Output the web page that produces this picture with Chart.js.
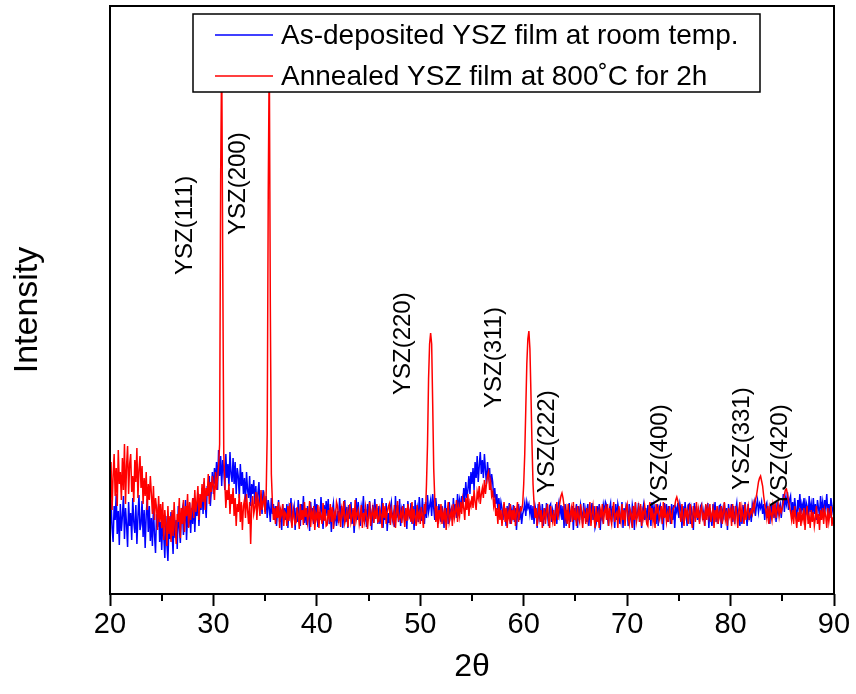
<!DOCTYPE html>
<html>
<head>
<meta charset="utf-8">
<script src="https://cdn.jsdelivr.net/npm/chart.js@4.4.1/dist/chart.umd.min.js"></script>
<style>
html,body{margin:0;padding:0;background:#fff;}
#wrap{width:856px;height:694px;position:relative;}
</style>
</head>
<body>
<div id="wrap"><canvas id="c" width="856" height="694"></canvas></div>
<script>
// ---- data ----
const thetaStart = 20;
const thetaStep = 0.1;
const xTicks = [20, 30, 40, 50, 60, 70, 80, 90];
const xTitle = '2\u03B8';
const yTitle = 'Intensity';
const seriesNames = ['As-deposited YSZ film at room temp.', 'Annealed YSZ film at 800\u02DAC for 2h'];
const peakNames = ['YSZ(111)', 'YSZ(200)', 'YSZ(220)', 'YSZ(311)', 'YSZ(222)', 'YSZ(400)', 'YSZ(331)', 'YSZ(420)'];

// intensity (arb. units), one row per degree, 0.1 deg step
const asDeposited = [
/*20*/ 58, 94, 66, 52, 88, 74, 100, 60, 83, 49,
/*21*/ 90, 63, 78, 98, 55, 86, 70, 47, 92, 68,
/*22*/ 81, 54, 96, 72, 61, 89, 50, 77, 99, 64,
/*23*/ 70, 93, 57, 84, 46, 79, 95, 62, 88, 53,
/*24*/ 76, 48, 85, 60, 41, 80, 67, 90, 52, 72,
/*25*/ 44, 73, 58, 36, 78, 50, 33, 69, 55, 82,
/*26*/ 62, 40, 84, 56, 74, 45, 88, 66, 51, 79,
/*27*/ 85, 59, 72, 94, 54, 80, 67, 91, 61, 86,
/*28*/ 70, 96, 62, 88, 78, 101, 68, 92, 84, 106,
/*29*/ 80, 112, 92, 76, 108, 98, 118, 88, 104, 122,
/*30*/ 100, 126, 110, 132, 104, 144, 118, 138, 108, 134,
/*31*/ 124, 104, 140, 116, 130, 108, 142, 120, 112, 136,
/*32*/ 110, 132, 100, 126, 118, 96, 130, 108, 122, 100,
/*33*/ 116, 92, 122, 104, 96, 118, 88, 110, 100, 114,
/*34*/ 90, 108, 84, 100, 112, 86, 98, 80, 104, 92,
/*35*/ 82, 98, 76, 94, 86, 72, 96, 80, 90, 74,
/*36*/ 88, 68, 84, 94, 72, 80, 64, 90, 76, 86,
/*37*/ 74, 90, 66, 85, 78, 96, 70, 82, 88, 64,
/*38*/ 86, 72, 94, 79, 68, 90, 76, 98, 71, 84,
/*39*/ 69, 88, 80, 63, 92, 75, 86, 70, 95, 78,
/*40*/ 90, 67, 82, 74, 97, 80, 65, 89, 76, 93,
/*41*/ 78, 95, 70, 86, 62, 84, 91, 73, 80, 68,
/*42*/ 83, 71, 96, 77, 88, 66, 81, 94, 72, 87,
/*43*/ 66, 89, 75, 92, 70, 84, 61, 79, 96, 74,
/*44*/ 92, 76, 68, 87, 80, 98, 72, 85, 67, 90,
/*45*/ 75, 93, 82, 64, 89, 71, 95, 78, 86, 70,
/*46*/ 88, 70, 79, 96, 66, 83, 74, 91, 63, 81,
/*47*/ 71, 86, 92, 74, 80, 67, 98, 76, 89, 72,
/*48*/ 95, 68, 84, 77, 90, 73, 82, 65, 93, 79,
/*49*/ 76, 91, 70, 88, 64, 94, 79, 86, 72, 97,
/*50*/ 84, 73, 96, 80, 70, 92, 76, 99, 82, 88,
/*51*/ 94, 78, 100, 86, 74, 96, 82, 70, 90, 80,
/*52*/ 72, 88, 80, 66, 94, 76, 86, 70, 92, 78,
/*53*/ 84, 74, 96, 80, 90, 76, 100, 86, 94, 82,
/*54*/ 98, 86, 106, 92, 112, 96, 104, 118, 100, 122,
/*55*/ 110, 126, 104, 132, 116, 138, 112, 128, 142, 120,
/*56*/ 134, 116, 140, 124, 110, 132, 118, 126, 104, 120,
/*57*/ 112, 96, 106, 90, 100, 84, 96, 80, 92, 86,
/*58*/ 74, 90, 80, 68, 88, 76, 91, 70, 84, 78,
/*59*/ 89, 72, 86, 64, 82, 90, 74, 88, 70, 80,
/*60*/ 84, 91, 78, 92, 86, 90, 80, 89, 74, 88,
/*61*/ 70, 88, 82, 66, 90, 76, 84, 72, 90, 68,
/*62*/ 86, 74, 91, 80, 68, 88, 90, 72, 84, 78,
/*63*/ 76, 90, 70, 86, 92, 80, 89, 74, 88, 66,
/*64*/ 90, 68, 84, 76, 91, 72, 80, 88, 64, 86,
/*65*/ 78, 90, 66, 88, 74, 89, 82, 70, 91, 76,
/*66*/ 84, 72, 90, 68, 86, 80, 91, 74, 88, 66,
/*67*/ 70, 88, 78, 90, 64, 84, 76, 89, 82, 92,
/*68*/ 89, 76, 68, 86, 91, 72, 88, 80, 66, 90,
/*69*/ 74, 90, 84, 70, 80, 92, 66, 86, 78, 89,
/*70*/ 86, 68, 90, 78, 72, 89, 82, 64, 91, 76,
/*71*/ 80, 91, 72, 88, 66, 84, 90, 74, 86, 70,
/*72*/ 89, 74, 82, 68, 92, 76, 88, 80, 70, 90,
/*73*/ 68, 86, 89, 76, 84, 64, 91, 78, 90, 72,
/*74*/ 88, 80, 70, 90, 74, 89, 66, 86, 82, 91,
/*75*/ 76, 90, 84, 66, 88, 72, 92, 80, 68, 89,
/*76*/ 90, 70, 86, 80, 64, 91, 76, 88, 74, 84,
/*77*/ 72, 88, 90, 74, 82, 68, 89, 78, 91, 66,
/*78*/ 86, 76, 68, 90, 80, 92, 72, 84, 70, 88,
/*79*/ 89, 66, 84, 78, 91, 74, 86, 64, 90, 80,
/*80*/ 78, 90, 72, 88, 70, 84, 91, 76, 82, 68,
/*81*/ 84, 70, 89, 76, 92, 80, 68, 90, 74, 86,
/*82*/ 72, 90, 84, 91, 78, 88, 94, 82, 90, 86,
/*83*/ 92, 80, 90, 74, 88, 91, 76, 84, 70, 90,
/*84*/ 82, 91, 76, 88, 72, 92, 80, 86, 90, 76,
/*85*/ 88, 100, 82, 96, 90, 102, 84, 94, 98, 80,
/*86*/ 92, 78, 96, 84, 74, 94, 86, 100, 80, 90,
/*87*/ 84, 96, 76, 92, 88, 74, 98, 82, 90, 78,
/*88*/ 96, 80, 90, 74, 94, 86, 78, 98, 84, 92,
/*89*/ 78, 94, 86, 100, 80, 90, 76, 96, 88, 82,
/*90*/ 86
];

const annealed = [
/*20*/ 96, 132, 84, 118, 140, 98, 126, 88, 144, 110,
/*21*/ 122, 94, 136, 104, 150, 90, 128, 148, 100, 130,
/*22*/ 140, 102, 118, 92, 134, 112, 146, 96, 124, 138,
/*23*/ 106, 128, 90, 116, 98, 122, 84, 110, 94, 118,
/*24*/ 100, 80, 108, 74, 96, 86, 64, 98, 72, 90,
/*25*/ 66, 92, 54, 84, 70, 48, 88, 60, 78, 52,
/*26*/ 84, 58, 92, 66, 50, 80, 72, 96, 56, 86,
/*27*/ 70, 94, 62, 88, 78, 100, 66, 92, 74, 84,
/*28*/ 96, 76, 104, 82, 92, 108, 74, 100, 86, 110,
/*29*/ 92, 116, 84, 106, 98, 120, 90, 112, 102, 118,
/*30*/ 108, 94, 122, 104, 116, 128, 150, 420, 544, 330,
/*31*/ 140, 112, 86, 104, 94, 110, 80, 100, 90, 106,
/*32*/ 78, 96, 68, 90, 82, 100, 72, 92, 64, 88,
/*33*/ 94, 76, 100, 84, 70, 92, 50, 88, 98, 80,
/*34*/ 86, 102, 74, 96, 90, 78, 104, 84, 92, 98,
/*35*/ 80, 100, 160, 400, 544, 290, 120, 92, 74, 86,
/*36*/ 70, 88, 76, 92, 66, 84, 79, 90, 68, 82,
/*37*/ 80, 68, 88, 73, 91, 76, 66, 85, 78, 70,
/*38*/ 72, 87, 79, 65, 90, 74, 84, 69, 92, 77,
/*39*/ 86, 71, 78, 93, 67, 82, 75, 88, 64, 80,
/*40*/ 75, 89, 66, 83, 78, 70, 91, 73, 85, 68,
/*41*/ 69, 84, 76, 90, 72, 87, 65, 81, 77, 92,
/*42*/ 88, 74, 80, 67, 85, 79, 93, 71, 76, 83,
/*43*/ 67, 82, 90, 72, 78, 86, 68, 94, 74, 80,
/*44*/ 84, 70, 77, 89, 66, 81, 73, 87, 79, 65,
/*45*/ 78, 92, 68, 80, 86, 71, 83, 75, 90, 72,
/*46*/ 73, 85, 79, 66, 91, 76, 88, 70, 82, 87,
/*47*/ 90, 69, 84, 77, 72, 89, 66, 80, 93, 74,
/*48*/ 76, 82, 71, 88, 79, 67, 86, 73, 90, 78,
/*49*/ 83, 72, 92, 70, 85, 76, 68, 89, 75, 81,
/*50*/ 70, 87, 78, 66, 90, 80, 110, 150, 215, 250,
/*51*/ 261, 250, 190, 125, 95, 72, 88, 66, 84, 76,
/*52*/ 90, 70, 82, 74, 86, 64, 80, 92, 72, 78,
/*53*/ 84, 68, 90, 76, 82, 94, 72, 86, 78, 92,
/*54*/ 80, 94, 86, 74, 96, 84, 100, 78, 92, 88,
/*55*/ 98, 86, 104, 92, 84, 102, 96, 108, 90, 100,
/*56*/ 106, 96, 114, 100, 110, 118, 122, 104, 112, 98,
/*57*/ 102, 88, 94, 78, 86, 70, 90, 74, 84, 68,
/*58*/ 80, 92, 72, 86, 66, 82, 76, 90, 70, 84,
/*59*/ 74, 88, 68, 82, 92, 72, 80, 86, 84, 90,
/*60*/ 110, 140, 185, 230, 255, 263, 245, 200, 150, 110,
/*61*/ 90, 76, 86, 68, 80, 92, 72, 84, 66, 78,
/*62*/ 86, 70, 82, 90, 74, 66, 88, 78, 72, 84,
/*63*/ 68, 80, 92, 74, 84, 92, 98, 101, 96, 88,
/*64*/ 76, 84, 70, 90, 66, 80, 86, 72, 92, 74,
/*65*/ 82, 68, 88, 76, 72, 90, 78, 66, 84, 80,
/*66*/ 70, 86, 74, 82, 92, 68, 80, 88, 76, 66,
/*67*/ 88, 72, 80, 66, 84, 78, 90, 70, 82, 86,
/*68*/ 74, 90, 68, 86, 76, 70, 84, 92, 72, 80,
/*69*/ 82, 66, 88, 78, 72, 90, 74, 84, 68, 86,
/*70*/ 90, 76, 70, 84, 80, 66, 88, 74, 92, 72,
/*71*/ 78, 86, 72, 90, 68, 82, 76, 88, 80, 70,
/*72*/ 68, 84, 92, 74, 86, 72, 80, 66, 90, 82,
/*73*/ 86, 74, 78, 88, 70, 92, 76, 84, 72, 80,
/*74*/ 72, 88, 80, 70, 84, 86, 88, 94, 97, 93,
/*75*/ 88, 80, 72, 90, 76, 68, 86, 78, 84, 70,
/*76*/ 82, 90, 74, 66, 88, 80, 72, 92, 76, 84,
/*77*/ 70, 84, 88, 76, 80, 68, 90, 74, 86, 78,
/*78*/ 90, 72, 80, 86, 66, 84, 76, 88, 70, 82,
/*79*/ 76, 88, 70, 82, 92, 74, 80, 68, 86, 78,
/*80*/ 84, 68, 90, 76, 72, 88, 80, 66, 84, 92,
/*81*/ 72, 86, 78, 70, 90, 74, 82, 88, 76, 80,
/*82*/ 84, 80, 90, 84, 94, 98, 105, 112, 116, 118,
/*83*/ 113, 108, 98, 90, 84, 76, 88, 70, 86, 80,
/*84*/ 74, 88, 80, 92, 76, 84, 90, 78, 86, 82,
/*85*/ 86, 92, 99, 104, 105, 100, 93, 87, 82, 74,
/*86*/ 84, 70, 88, 76, 66, 82, 72, 86, 68, 80,
/*87*/ 74, 86, 64, 80, 88, 70, 78, 66, 84, 72,
/*88*/ 82, 68, 76, 88, 70, 80, 64, 84, 74, 86,
/*89*/ 70, 84, 78, 66, 86, 72, 80, 88, 68, 76,
/*90*/ 76
];

const theta = asDeposited.map((_, i) => Math.round((thetaStart + i * thetaStep) * 10) / 10);

// ---- drawing ----
const FONT = "'Liberation Sans', Arial, sans-serif";

const framePlugin = {
  id: 'frame',
  afterDatasetsDraw(chart, args, opts) {
    const {ctx, chartArea: a, scales} = chart;
    const xs = scales.x;
    ctx.save();
    // minor ticks
    ctx.strokeStyle = '#000';
    ctx.lineWidth = 2;
    for (let v = 25; v < 90; v += 10) {
      const px = Math.round(xs.getPixelForValue(v));
      ctx.beginPath(); ctx.moveTo(px, a.bottom); ctx.lineTo(px, a.bottom + 7); ctx.stroke();
    }
    // box frame
    ctx.strokeRect(a.left, a.top, a.right - a.left, a.bottom - a.top);

    // y axis title
    ctx.fillStyle = '#000';
    ctx.font = opts.yTitle.size + 'px ' + FONT;
    ctx.textAlign = 'center';
    ctx.textBaseline = 'middle';
    ctx.save();
    ctx.translate(opts.yTitle.x, opts.yTitle.y);
    ctx.rotate(-Math.PI / 2);
    ctx.fillText(yTitle, 0, 0);
    ctx.restore();

    // peak labels
    ctx.font = opts.peakFont + 'px ' + FONT;
    ctx.textAlign = 'left';
    ctx.textBaseline = 'middle';
    opts.anchors.forEach((an, i) => {
      const px = xs.getPixelForValue(an[0]);
      const py = scales.y.getPixelForValue(an[1]);
      ctx.save();
      ctx.translate(px, py);
      ctx.rotate(-Math.PI / 2);
      ctx.fillText(peakNames[i], 0, 0);
      ctx.restore();
    });

    // legend
    const L = opts.legend;
    ctx.fillStyle = '#fff';
    ctx.fillRect(L.x, L.y, L.w, L.h);
    ctx.lineWidth = 1.5;
    ctx.strokeStyle = '#000';
    ctx.strokeRect(L.x, L.y, L.w, L.h);
    ctx.font = L.fontSize + 'px ' + FONT;
    ctx.textBaseline = 'middle';
    ctx.textAlign = 'left';
    chart.data.datasets.forEach((ds, i) => {
      const y = L.rows[i];
      ctx.strokeStyle = ds.borderColor;
      ctx.lineWidth = 1.5;
      ctx.beginPath(); ctx.moveTo(L.lineX0, y); ctx.lineTo(L.lineX1, y); ctx.stroke();
      ctx.fillStyle = '#000';
      ctx.fillText(ds.label, L.textX, y + 1);
    });
    ctx.restore();
  }
};

new Chart(document.getElementById('c'), {
  type: 'line',
  data: {
    datasets: [
      {
        label: seriesNames[0],
        data: asDeposited.map((v, i) => ({x: theta[i], y: v})),
        borderColor: '#0000ff',
        borderWidth: 1.5,
        pointRadius: 0,
        order: 1
      },
      {
        label: seriesNames[1],
        data: annealed.map((v, i) => ({x: theta[i], y: v})),
        borderColor: '#ff0000',
        borderWidth: 1.5,
        pointRadius: 0,
        order: 0
      }
    ]
  },
  options: {
    responsive: false,
    animation: false,
    layout: {padding: {top: 6, right: 22, left: 0, bottom: 0}},
    plugins: {
      legend: {display: false},
      tooltip: {enabled: false},
      frame: {
        yTitle: {x: 28, y: 310, size: 34},
        peakFont: 24,
        anchors: [[27.25, 319], [32.38, 359], [48.33, 199], [57.13, 186], [62.25, 101], [73.23, 87], [81.1, 104], [84.78, 87]],
        legend: {x: 193, y: 14, w: 567, h: 78, rows: [35, 76], lineX0: 215, lineX1: 273, textX: 281, fontSize: 28}
      }
    },
    scales: {
      x: {
        type: 'linear',
        min: 20, max: 90,
        afterBuildTicks(s) { s.ticks = xTicks.map(v => ({value: v})); },
        afterFit(s) { s.height = 100; },
        ticks: {color: '#000', font: {family: FONT, size: 29}, padding: 2, maxRotation: 0},
        grid: {display: true, drawOnChartArea: false, drawTicks: true, tickLength: 12, tickColor: '#000', tickWidth: 2},
        border: {display: false},
        title: {display: true, text: xTitle, color: '#000', font: {family: FONT, size: 32}, padding: {top: 4, bottom: 8}}
      },
      y: {
        min: 0, max: 588,
        afterFit(s) { s.width = 110; },
        ticks: {display: false},
        grid: {display: false},
        border: {display: false},
        title: {display: false}
      }
    }
  },
  plugins: [framePlugin]
});
</script>
</body>
</html>
